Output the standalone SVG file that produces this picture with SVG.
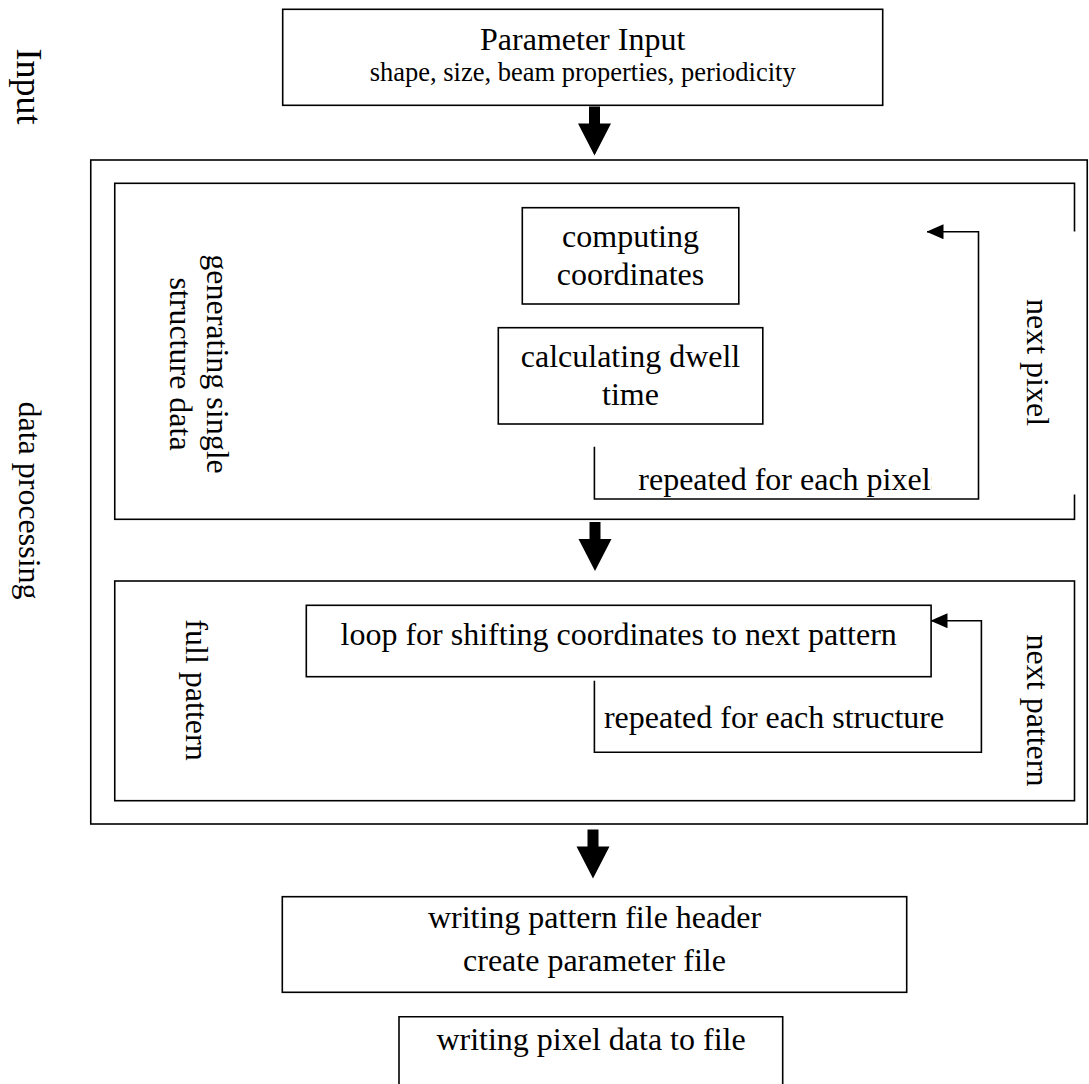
<svg xmlns="http://www.w3.org/2000/svg" width="1089" height="1084" viewBox="0 0 1089 1084">
<style>
  .box { fill: none; stroke: #000; stroke-width: 1.6; }
  .wbox { fill: #fff; stroke: #000; stroke-width: 1.6; }
  .line { fill: none; stroke: #000; stroke-width: 1.6; }
  .t { font-family: "Liberation Serif", "Times New Roman", serif; font-size: 32px; fill: #000; }
  .sub { font-size: 26.5px; }
  .big { font-size: 36px; }
  .c { text-anchor: middle; }
  .blk { fill: #000; stroke: none; }
</style>
<defs>
  <path id="blockArrow" d="M -5.5 0 H 5.5 V 17 H 16.5 L 0 49 L -16.5 17 H -5.5 Z"/>
  <marker id="head" markerUnits="userSpaceOnUse" markerWidth="17" markerHeight="15" refX="16.5" refY="7.5" orient="auto" viewBox="0 0 17 15">
    <path d="M0,0 L17,7.5 L0,15 Z" fill="#000"/>
  </marker>
  <clipPath id="clipRep">
    <rect x="596" y="440" width="335.5" height="70"/>
  </clipPath>
</defs>

<g id="side-labels">
  <text class="t big c" transform="translate(17,86.5) rotate(90)">Input</text>
  <text class="t c" transform="translate(18.5,500.5) rotate(90)">data processing</text>
</g>

<g id="data-processing">
  <rect class="box" x="90.75" y="160" width="996.5" height="664"/>
</g>

<g id="single-structure">
  <rect class="box" x="114.75" y="183.3" width="959.75" height="336"/>
  <rect x="1000" y="231.5" width="80" height="263" fill="#fff"/>
  <text class="t c" transform="translate(207,364) rotate(90)">generating single<tspan x="0" dy="37">structure data</tspan></text>
  <text class="t c" transform="translate(1027,362.5) rotate(90)">next pixel</text>
</g>

<g id="full-pattern">
  <rect class="box" x="114.75" y="581" width="959.75" height="219.7"/>
  <text class="t c" transform="translate(186,690) rotate(90)">full pattern</text>
  <text class="t c" transform="translate(1027,710.5) rotate(90)">next pattern</text>
</g>

<g id="parameter-input">
  <rect class="box" x="282.7" y="9.3" width="600" height="96"/>
  <text class="t c" x="582.7" y="50">Parameter Input</text>
  <text class="t sub c" x="582.7" y="81">shape, size, beam properties, periodicity</text>
</g>

<g id="computing-coordinates">
  <rect class="box" x="522.3" y="207.7" width="216.5" height="96.3"/>
  <text class="t c" x="630.5" y="246.7">computing</text>
  <text class="t c" x="630.5" y="285">coordinates</text>
</g>

<g id="calculating-dwell">
  <rect class="box" x="498.3" y="327.7" width="264.5" height="96.3"/>
  <text class="t c" x="630.5" y="366.7">calculating dwell</text>
  <text class="t c" x="630.5" y="405">time</text>
</g>

<g id="shift-loop">
  <rect class="box" x="306.3" y="605.3" width="624.8" height="71.4"/>
  <text class="t c" x="618.7" y="645">loop for shifting coordinates to next pattern</text>
</g>

<g id="write-header">
  <rect class="box" x="282.3" y="896.7" width="624.4" height="95.6"/>
  <text class="t c" x="594.5" y="927.5">writing pattern file header</text>
  <text class="t c" x="594.5" y="971">create parameter file</text>
</g>

<g id="write-pixel">
  <path class="line" d="M399,1095 V1016.7 H782.7 V1095"/>
  <text class="t c" x="591" y="1050">writing pixel data to file</text>
</g>

<g id="connectors">
  <use href="#blockArrow" class="blk" x="594.5" y="106.5"/>
  <use href="#blockArrow" class="blk" x="595" y="522"/>
  <use href="#blockArrow" class="blk" x="593" y="829.5"/>
  <path class="line" d="M594.4,446.7 V499 H978.5 V231.7 H927" marker-end="url(#head)"/>
  <text class="t" x="638.3" y="490" clip-path="url(#clipRep)">repeated for each pixels</text>
  <path class="line" d="M594.4,680.7 V752.3 H981.4 V620.7 H931" marker-end="url(#head)"/>
  <text class="t" x="603.9" y="727.7">repeated for each structure</text>
</g>
</svg>
